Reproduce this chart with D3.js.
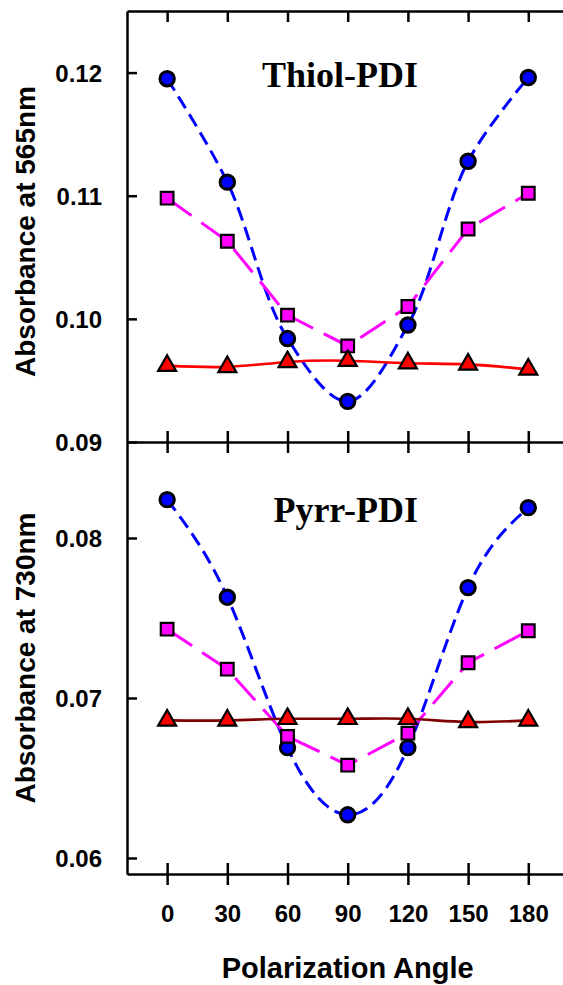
<!DOCTYPE html>
<html>
<head>
<meta charset="utf-8">
<script src="https://cdn.jsdelivr.net/npm/d3@7"></script>
<style>
  body { margin: 0; background: #fff; }
  svg { display: block; }
  .axis path, .axis line { stroke: #000; stroke-width: 2.5; }
  .axis text { font-family: "Liberation Sans", Arial, sans-serif; font-weight: bold; font-size: 24px; fill: #000; }
  .label { font-family: "Liberation Sans", Arial, sans-serif; font-weight: bold; font-size: 28px; }
  .title { font-family: "Liberation Serif", "Times New Roman", serif; font-weight: bold; font-size: 36px; }
</style>
</head>
<body>
<div id="root"></div>
<script>
const WIDTH = 563;
const HEIGHT = 985;

// polarization angles (x)
const angles = [0, 30, 60, 90, 120, 150, 180];

// Thiol-PDI, absorbance at 565nm
const thiolBlue = [0.1195, 0.1111, 0.0984, 0.0933, 0.0995, 0.1128, 0.1196];
const thiolMagenta = [0.1098, 0.1063, 0.1003, 0.0978, 0.1010, 0.1073, 0.1102];
const thiolRed = [0.0962, 0.0961, 0.0965, 0.0966, 0.0964, 0.0963, 0.0959];

// Pyrr-PDI, absorbance at 730nm
const pyrrBlue = [0.0824, 0.0763, 0.0669, 0.0627, 0.0669, 0.0769, 0.0819];
const pyrrMagenta = [0.0743, 0.0718, 0.0676, 0.0658, 0.0678, 0.0722, 0.0742];
const pyrrRed = [0.0686, 0.0686, 0.0687, 0.0687, 0.0687, 0.0685, 0.0686];

const topTicks = [0.09, 0.10, 0.11, 0.12];
const bottomTicks = [0.06, 0.07, 0.08];

const x = d3.scaleLinear().domain([-20, 197.3]).range([127, 563]);
const yTop = d3.scaleLinear().domain([0.09, 0.125]).range([442, 11]);
const yBot = d3.scaleLinear().domain([0.059, 0.086]).range([874, 442]);

const svg = d3.select('#root').append('svg')
    .attr('width', WIDTH)
    .attr('height', HEIGHT);

// x axes (frame lines + ticks)
svg.append('g')
    .attr('class', 'axis')
    .attr('transform', `translate(0, ${yTop.range()[1]})`)
    .call(d3.axisTop(x).tickValues(angles).tickSizeInner(-11).tickSizeOuter(0).tickFormat(''));

svg.append('g')
    .attr('class', 'axis')
    .attr('transform', `translate(0, ${yTop.range()[0]})`)
    .call(d3.axisBottom(x).tickValues(angles).tickSizeInner(11).tickSizeOuter(0).tickFormat(''))
    .selectAll('.tick line').attr('y1', -11);

const xAxisG = svg.append('g')
    .attr('class', 'axis')
    .attr('transform', `translate(0, ${yBot.range()[0]})`)
    .call(d3.axisBottom(x).tickValues(angles).tickSizeInner(11).tickSizeOuter(0).tickPadding(20));
xAxisG.selectAll('.tick line').attr('y1', -11);

// y axes
function yAxis(scale, ticks) {
    const g = svg.append('g')
        .attr('class', 'axis')
        .attr('transform', `translate(${x.range()[0]}, 0)`)
        .call(d3.axisLeft(scale).tickValues(ticks).tickSizeInner(10).tickSizeOuter(0)
            .tickPadding(15).tickFormat(d3.format('.2f')));
    g.selectAll('.tick line').attr('x2', 10);
    g.selectAll('.tick text').attr('dy', '0.36em');
}
yAxis(yTop, topTicks);
yAxis(yBot, bottomTicks);

// axis labels
svg.append('text')
    .attr('class', 'label')
    .attr('transform', `translate(35, ${(yTop.range()[0] + yTop.range()[1]) / 2 + 5}) rotate(-90)`)
    .attr('text-anchor', 'middle')
    .text('Absorbance at 565nm');

svg.append('text')
    .attr('class', 'label')
    .attr('transform', `translate(35, ${(yBot.range()[0] + yBot.range()[1]) / 2}) rotate(-90)`)
    .attr('text-anchor', 'middle')
    .text('Absorbance at 730nm');

svg.append('text')
    .attr('class', 'label')
    .attr('x', x(90))
    .attr('y', 978)
    .attr('text-anchor', 'middle')
    .style('font-size', '29px')
    .text('Polarization Angle');

// panel titles
svg.append('text')
    .attr('class', 'title')
    .attr('x', 418)
    .attr('y', 87)
    .attr('text-anchor', 'end')
    .text('Thiol-PDI');

svg.append('text')
    .attr('class', 'title')
    .attr('x', 418)
    .attr('y', 522)
    .attr('text-anchor', 'end')
    .text('Pyrr-PDI');

function series(yScale, values, opts) {
    const pts = angles.map((a, i) => [a, values[i]]);
    const line = d3.line()
        .x(d => x(d[0]))
        .y(d => yScale(d[1]))
        .curve(opts.curve);
    svg.append('path')
        .datum(pts)
        .attr('d', line)
        .attr('fill', 'none')
        .attr('stroke', opts.lineColor)
        .attr('stroke-width', opts.width)
        .attr('stroke-dasharray', opts.dash || null);
    svg.selectAll(null)
        .data(pts)
        .enter().append('path')
        .attr('transform', d => `translate(${x(d[0])}, ${yScale(d[1])})`)
        .attr('d', d3.symbol().type(opts.symbol).size(opts.size))
        .attr('fill', opts.fill)
        .attr('stroke', '#000')
        .attr('stroke-width', opts.symbol === d3.symbolCircle ? 3 : 2.2);
}

const blue = { curve: d3.curveNatural, lineColor: '#0000ff', width: 3, dash: '14,7',
    symbol: d3.symbolCircle, size: Math.PI * 7.2 * 7.2, fill: '#0000ff' };
const magenta = { curve: d3.curveLinear, lineColor: '#ff00ff', width: 3, dash: '30,12',
    symbol: d3.symbolSquare, size: 160, fill: '#ff00ff' };

series(yTop, thiolBlue, { ...blue, curve: d3.curveCatmullRom });
series(yTop, thiolMagenta, magenta);
series(yTop, thiolRed, { curve: d3.curveNatural, lineColor: '#ff0000', width: 2.6,
    symbol: d3.symbolTriangle, size: 140, fill: '#ff0000' });

series(yBot, pyrrBlue, blue);
series(yBot, pyrrMagenta, magenta);
series(yBot, pyrrRed, { curve: d3.curveNatural, lineColor: '#800000', width: 2.6,
    symbol: d3.symbolTriangle, size: 140, fill: '#ff0000' });
</script>
</body>
</html>
